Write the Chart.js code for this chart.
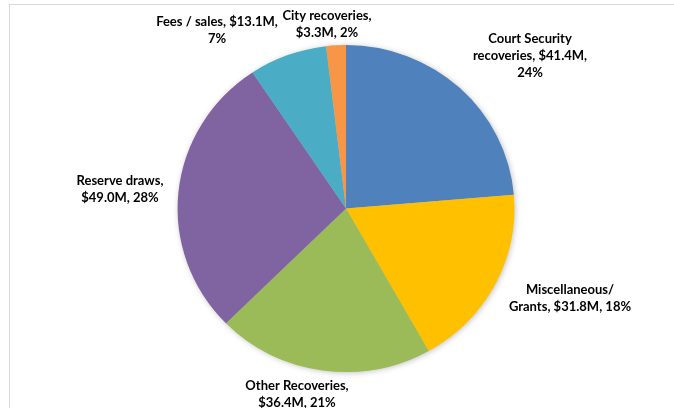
<!DOCTYPE html>
<html>
<head>
<meta charset="utf-8">
<script src="https://cdn.jsdelivr.net/npm/chart.js@4/dist/chart.umd.min.js"></script>
<style>
    html, body { margin: 0; padding: 0; background: #fff; }
    #wrap { position: relative; width: 674px; height: 408px; overflow: hidden; }
    #frame { position: absolute; left: 9px; top: 4px; right: -2px; bottom: -2px;
             border-top: 1px solid #d9d9d9; border-left: 1px solid #d9d9d9; pointer-events: none; }
    canvas { position: absolute; left: 0; top: 0; }
</style>
</head>
<body>
<div id="wrap">
    <canvas id="revenueChart" width="674" height="408"></canvas>
    <div id="frame"></div>
</div>
<script>
// revenue sources, $M, clockwise from 12 o'clock
const categories = ['Court Security recoveries', 'Miscellaneous/ Grants', 'Other Recoveries', 'Reserve draws', 'Fees / sales', 'City recoveries'];
const amounts = [41.4, 31.8, 36.4, 49.0, 13.1, 3.3];
const sliceColors = ['#4f81bd', '#ffc000', '#9bbb59', '#8064a2', '#4bacc6', '#f79646'];

// label text layout: {v} amount, {p} percent, | line break
const labelTemplates = [
    'Court Security|recoveries, {v},|{p}',
    'Miscellaneous/|Grants, {v}, {p}',
    'Other Recoveries,|{v}, {p}',
    'Reserve draws,|{v}, {p}',
    'Fees / sales, {v},|{p}',
    'City recoveries,|{v}, {p}'
];
// label block centres relative to the pie centre
const labelOffsets = [[184, -153], [224, 90], [-49, 186], [-226, -19], [-129, -178], [-19, -184]];

const total = amounts.reduce((a, b) => a + b, 0);
const stretchX = 1.03;
const labelFont = 'bold 13px Lato, "DejaVu Sans Condensed", sans-serif';
const lineHeight = 17;

function labelLines(i) {
    const v = '$' + amounts[i].toFixed(1) + 'M';
    const p = Math.round(amounts[i] / total * 100) + '%';
    return labelTemplates[i].replace('{v}', v).replace('{p}', p).split('|');
}

// slightly wider than tall, with a soft shadow under the whole pie
const piePlugin = {
    id: 'pieShape',
    beforeDatasetsDraw(chart) {
        const arc = chart.getDatasetMeta(0).data[0];
        if (!arc) return;
        const ctx = chart.ctx;
        ctx.save();
        ctx.translate(arc.x, arc.y);
        ctx.scale(stretchX, 1);
        ctx.translate(-arc.x, -arc.y);
        ctx.save();
        ctx.shadowColor = 'rgba(0, 0, 0, 0.28)';
        ctx.shadowBlur = 6;
        ctx.shadowOffsetX = 1;
        ctx.shadowOffsetY = 1;
        ctx.beginPath();
        ctx.arc(arc.x, arc.y, arc.outerRadius - 0.5, 0, Math.PI * 2);
        ctx.fillStyle = '#bbb';
        ctx.fill();
        ctx.restore();
    },
    afterDatasetsDraw(chart) {
        chart.ctx.restore();
    }
};

const labelPlugin = {
    id: 'sliceLabels',
    afterDraw(chart) {
        const ctx = chart.ctx;
        const arcs = chart.getDatasetMeta(0).data;
        ctx.save();
        ctx.font = labelFont;
        ctx.fillStyle = '#000';
        ctx.textAlign = 'center';
        ctx.textBaseline = 'middle';
        arcs.forEach((arc, i) => {
            const lines = labelLines(i);
            const cx = arc.x + labelOffsets[i][0];
            const cy = arc.y + labelOffsets[i][1];
            const top = cy - (lines.length - 1) * lineHeight / 2;
            lines.forEach((line, k) => ctx.fillText(line, cx, top + k * lineHeight));
        });
        ctx.restore();
    }
};

new Chart(document.getElementById('revenueChart'), {
    type: 'pie',
    data: {
        labels: categories,
        datasets: [{
            data: amounts,
            backgroundColor: sliceColors,
            borderWidth: 0,
            hoverOffset: 0
        }]
    },
    options: {
        responsive: false,
        animation: false,
        events: [],
        layout: { padding: { top: 45, bottom: 36, left: 18, right: 0 } },
        plugins: {
            legend: { display: false },
            tooltip: { enabled: false }
        }
    },
    plugins: [piePlugin, labelPlugin]
});
</script>
</body>
</html>
